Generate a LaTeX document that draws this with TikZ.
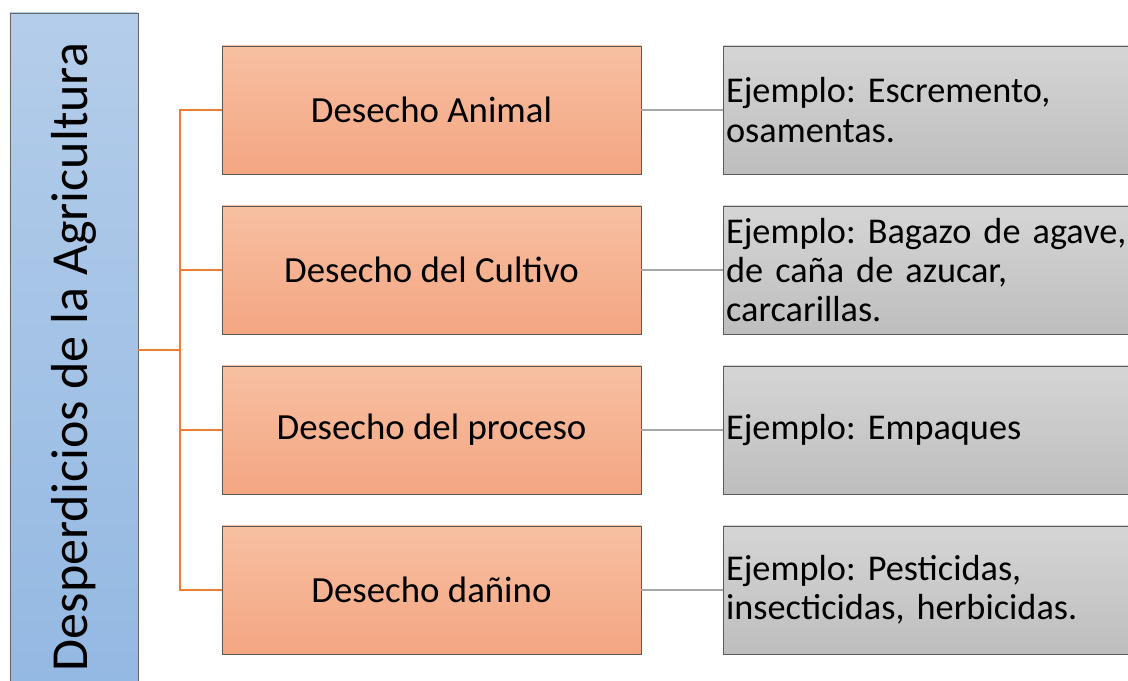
\documentclass[tikz,border=0pt]{standalone}
\usepackage{fontspec}
\setmainfont{Carlito}
\usepackage{xcolor}
\usepackage{tikz}
\usetikzlibrary{positioning}
\definecolor{rootTop}{HTML}{B4CDEA}
\definecolor{rootBot}{HTML}{93B8E2}
\definecolor{catTop}{HTML}{F7BFA2}
\definecolor{catBot}{HTML}{F4A682}
\definecolor{exTop}{HTML}{D5D5D5}
\definecolor{exBot}{HTML}{BEBEBE}
\definecolor{busline}{HTML}{ED7D31}
\definecolor{leafline}{HTML}{A5A5A5}
\frenchspacing
\tikzset{
  rootbox/.style={draw=gray!80!black,rotate=90,top color=rootTop,bottom color=rootBot,
    minimum width=17.2cm,minimum height=3.2cm,inner sep=0pt,font=\fontsize{37}{42}\selectfont},
  catbox/.style={draw=gray!70!black,top color=catTop,bottom color=catBot,
    minimum width=10.475cm,minimum height=3.2cm,inner sep=0pt,font=\fontsize{26.2}{30}\selectfont},
  exbox/.style={draw=gray!70!black,top color=exTop,bottom color=exBot,
    minimum height=3.2cm,text width=10.2cm,align=left,inner xsep=2pt,inner ysep=0pt,
    font=\fontsize{25.8}{28}\selectfont},
  branch/.style={busline,line width=1.3pt},
  leaf/.style={leafline,line width=1.3pt}
}
\begin{document}
\begin{tikzpicture}[x=0.025cm,y=-0.025cm]
\useasboundingbox (0,0) rectangle (1128,680);
\node[rootbox] (root) at (74,357) {Desperdicios de la Agricultura};
% categorias
\node[catbox] (animal) at (431.5,110) {Desecho Animal};
\node[catbox] (cultivo) at (431.5,270) {Desecho del Cultivo};
\node[catbox] (proceso) at (431.5,430) {Desecho del proceso};
\node[catbox] (danino) at (431.5,590) {Desecho dañino};
% ejemplos
\node[exbox,anchor=west] (animalex) at (723,110) {Ejemplo: Escremento,\\osamentas.};
\node[exbox,anchor=west] (cultivoex) at (723,270) {Ejemplo: Bagazo de agave,\\de caña de azucar,\\carcarillas.};
\node[exbox,anchor=west] (procesoex) at (723,430) {Ejemplo: Empaques};
\node[exbox,anchor=west] (daninoex) at (723,590) {Ejemplo: Pesticidas,\\insecticidas, herbicidas.};
\coordinate (bus) at (180,350);
\draw[branch] (root.south |- bus) -- (bus);
\foreach \n in {animal,cultivo,proceso,danino}{
  \draw[branch] (bus) |- (\n.west);
  \draw[leaf] (\n.east) -- (\n ex.west);
}
\end{tikzpicture}
\end{document}
